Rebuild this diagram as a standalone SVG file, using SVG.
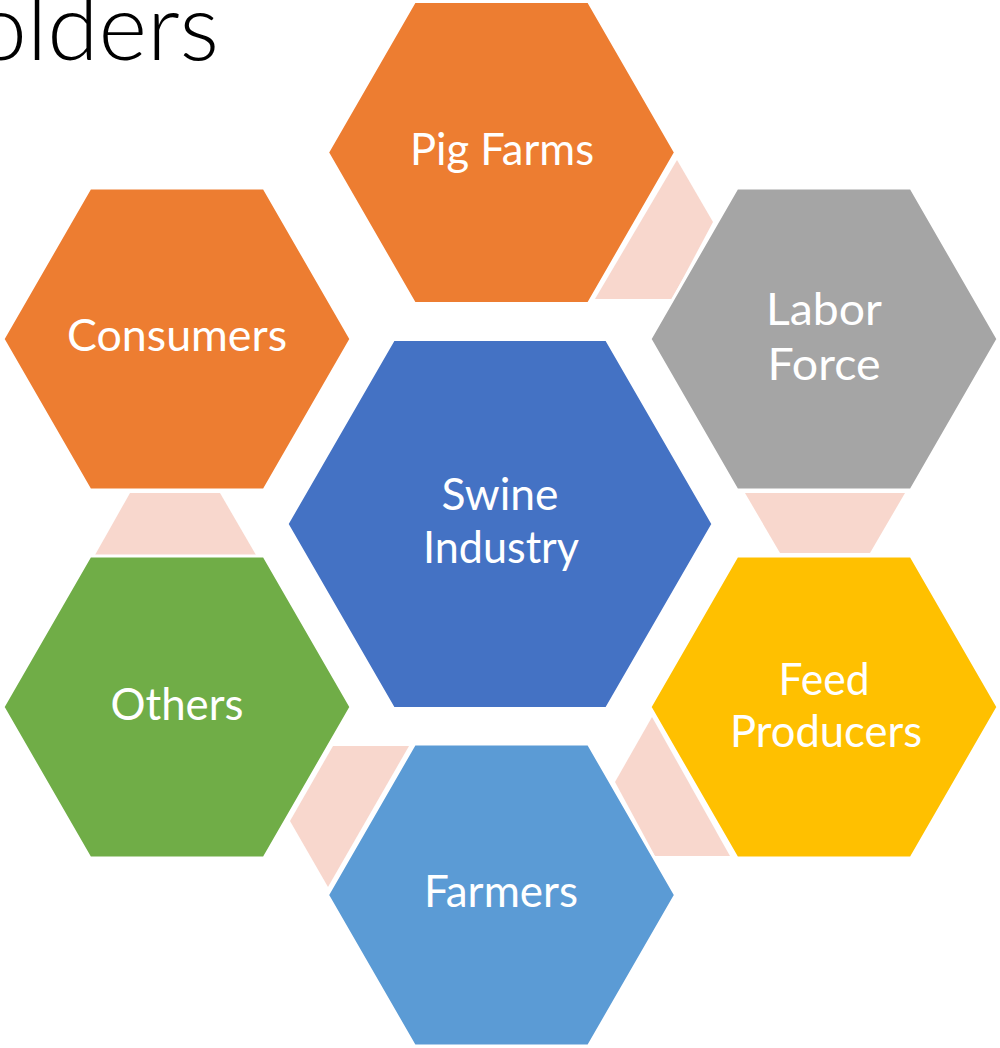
<svg xmlns="http://www.w3.org/2000/svg" width="1000" height="1048" viewBox="0 0 1000 1048">
<style>
.hex{stroke:#ffffff;stroke-width:3;stroke-linejoin:miter}
.conn{fill:#F8D7CD;stroke:none}
.lbl{fill:#ffffff;font-family:Lato,"Open Sans","Liberation Sans",sans-serif;font-size:45px;text-anchor:middle}
.title{fill:#000000;font-family:Lato,"Open Sans","Liberation Sans",sans-serif;font-weight:300;font-size:93px;text-anchor:end}
</style>
<rect width="1000" height="1048" fill="#ffffff"/>
<text class="title" x="219" y="60">olders</text>
<g id="connectors">
  <polygon class="conn" points="677,160 713,222 672,299 595,299"/>
  <polygon class="conn" points="130,493 220,493 256,555 95,555"/>
  <polygon class="conn" points="333,746 409,746 328,887 290,821"/>
  <polygon class="conn" points="652,717 730,856 655,856 615,782"/>
  <polygon class="conn" points="745,493 905,493 870,553 780,553"/>
</g>
<g id="pig-farms">
  <polygon class="hex" fill="#ED7D31" points="327.5,152.5 414.5,1.5 588.5,1.5 675.5,152.5 588.5,303.5 414.5,303.5"/>
  <text class="lbl" x="502" y="165" textLength="184" lengthAdjust="spacingAndGlyphs">Pig Farms</text>
</g>
<g id="consumers">
  <polygon class="hex" fill="#ED7D31" points="3,339 90,188 264,188 351,339 264,490 90,490"/>
  <text class="lbl" x="177" y="351" textLength="220" lengthAdjust="spacingAndGlyphs">Consumers</text>
</g>
<g id="labor-force">
  <polygon class="hex" fill="#A5A5A5" points="650,339 737,188 911,188 998,339 911,490 737,490"/>
  <text class="lbl" x="824" y="325" textLength="116" lengthAdjust="spacingAndGlyphs">Labor</text>
  <text class="lbl" x="824" y="380" textLength="113" lengthAdjust="spacingAndGlyphs">Force</text>
</g>
<g id="swine-industry">
  <polygon class="hex" fill="#4472C4" points="287,524 393.5,339.5 606.5,339.5 713,524 606.5,708.5 393.5,708.5"/>
  <text class="lbl" x="500" y="510" textLength="117" lengthAdjust="spacingAndGlyphs">Swine</text>
  <text class="lbl" x="501" y="563" textLength="156" lengthAdjust="spacingAndGlyphs">Industry</text>
</g>
<g id="others">
  <polygon class="hex" fill="#70AD47" points="3,707 90,556 264,556 351,707 264,858 90,858"/>
  <text class="lbl" x="177" y="720" textLength="133" lengthAdjust="spacingAndGlyphs">Others</text>
</g>
<g id="feed-producers">
  <polygon class="hex" fill="#FFC000" points="650,707 737,556 911,556 998,707 911,858 737,858"/>
  <text class="lbl" x="824" y="695" textLength="91" lengthAdjust="spacingAndGlyphs">Feed</text>
  <text class="lbl" x="826" y="747" textLength="192" lengthAdjust="spacingAndGlyphs">Producers</text>
</g>
<g id="farmers">
  <polygon class="hex" fill="#5B9BD5" points="327.5,895 414.5,744 588.5,744 675.5,895 588.5,1046 414.5,1046"/>
  <text class="lbl" x="501" y="907" textLength="154" lengthAdjust="spacingAndGlyphs">Farmers</text>
</g>
</svg>
